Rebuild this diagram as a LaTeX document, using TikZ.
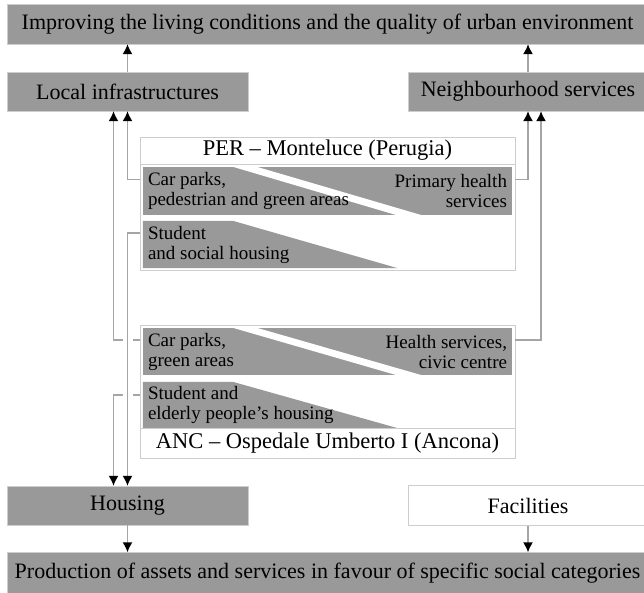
\documentclass[tikz,border=0pt]{standalone}
\usepackage{fontspec}
\setmainfont{Liberation Serif}
\usetikzlibrary{arrows.meta,calc}
\definecolor{boxgray}{RGB}{153,153,153}
\definecolor{edgegray}{RGB}{205,205,205}
\definecolor{linkgray}{RGB}{165,165,165}

\begin{document}
\begin{tikzpicture}[
  x=1pt, y=-1pt,
  font=\fontsize{22}{26}\selectfont,
  goalbox/.style={draw=edgegray, fill=boxgray, inner sep=0pt, minimum width=641pt, minimum height=40pt},
  outbox/.style={draw=edgegray, fill=boxgray, inner sep=0pt, minimum width=241pt, minimum height=39pt},
  projbox/.style={draw=edgegray, fill=white, inner sep=0pt, minimum width=375pt},
  titletext/.style={font=\fontsize{22.5}{26}\selectfont},
  rowbox/.style={inner sep=0pt, minimum width=369pt},
  rowtext/.style={inner sep=0pt, align=left, font=\fontsize{19}{20}\selectfont},
  linkline/.style={draw=linkgray, line width=1.4pt},
  arrow/.style={linkline, -{Latex[length=10pt,width=10pt,color=black]}}
]
\useasboundingbox (0,0) rectangle (644,592);

\node[goalbox] (improve) at (327.5,24) {Improving the living conditions and the quality of urban environment};
\node[outbox] (local) at (127.5,91.5) {Local infrastructures};
\node[outbox, minimum width=240pt] (neigh) at (528,91.5) {Neighbourhood services};
\node[outbox] (housing) at (127.5,505.5) {Housing};
\node[outbox, fill=white, minimum width=240pt, minimum height=40pt] (facil) at (528,505.5) {Facilities};
\node[goalbox, minimum height=41pt] (produce) at (327.5,573) {Production of assets and services in favour of specific social categories};

\node[projbox, minimum height=133pt] (perbox) at (327.5,203.5) {};
\node[projbox, titletext, minimum height=27pt] (pertitle) at (327.5,150.5) {PER – Monteluce (Perugia)};
\node[rowbox, fill=boxgray, minimum height=48pt] (perA) at (327.5,191) {};
\fill[white] ([xshift=90pt]perA.north west) -- ([xshift=114pt]perA.north west)
  -- ([xshift=279pt]perA.south west) -- ([xshift=254pt]perA.south west) -- cycle;
\node[rowtext, anchor=west] (perAl) at ([xshift=5pt]perA.west) {Car parks,\\pedestrian and green areas};
\node[rowtext, anchor=east, align=right] (perAr) at ([xshift=-5pt]perA.east) {Primary health\\services};
\node[rowbox, minimum height=47pt] (perB) at (327.5,244.5) {};
\fill[boxgray] (perB.north west) -- ([xshift=90pt]perB.north west)
  -- ([xshift=255pt]perB.south west) -- (perB.south west) -- cycle;
\node[rowtext, anchor=west] (perBl) at ([xshift=5pt]perB.west) {Student\\and social housing};

\node[projbox, minimum height=133pt] (ancbox) at (327.5,391.5) {};
\node[rowbox, fill=boxgray, minimum height=47pt] (ancA) at (327.5,351.5) {};
\fill[white] ([xshift=90pt]ancA.north west) -- ([xshift=114pt]ancA.north west)
  -- ([xshift=279pt]ancA.south west) -- ([xshift=254pt]ancA.south west) -- cycle;
\node[rowtext, anchor=west] (ancAl) at ([xshift=5pt]ancA.west) {Car parks,\\green areas};
\node[rowtext, anchor=east, align=right] (ancAr) at ([xshift=-5pt]ancA.east) {Health services,\\civic centre};
\node[rowbox, minimum height=46pt] (ancB) at (327.5,405) {};
\fill[boxgray] (ancB.north west) -- ([xshift=90pt]ancB.north west)
  -- ([xshift=255pt]ancB.south west) -- (ancB.south west) -- cycle;
\node[rowtext, anchor=west] (ancBl) at ([xshift=5pt]ancB.west) {Student and\\elderly people's housing};
\node[projbox, titletext, minimum height=30pt] (anctitle) at (327.5,443) {ANC – Ospedale Umberto I (Ancona)};

\draw[arrow] (local.north) -- (local.north |- improve.south);
\draw[arrow] (neigh.north) -- (neigh.north |- improve.south);
\draw[arrow] (housing.south) -- (housing.south |- produce.north);
\draw[arrow] (facil.south) -- (facil.south |- produce.north);

\draw[arrow] ([xshift=-3pt,yshift=-12.5pt]perA.north west) -| (local.south);
\draw[arrow] ([xshift=3pt,yshift=-12.5pt]perA.north east) -| (neigh.south);
\draw[arrow] ([xshift=-3pt,yshift=-12pt]ancA.north west) -| ([xshift=-14pt]local.south);
\draw[arrow] ([xshift=3pt,yshift=-12pt]ancA.north east) -| ([xshift=13pt]neigh.south);
\draw[arrow] ([xshift=-3pt,yshift=-13pt]ancB.north west) -| ([xshift=-14pt]housing.north);
\draw[arrow, preaction={draw=white, line width=10pt, -}] ([xshift=-3pt,yshift=-12pt]perB.north west) -| (housing.north);

\end{tikzpicture}
\end{document}
